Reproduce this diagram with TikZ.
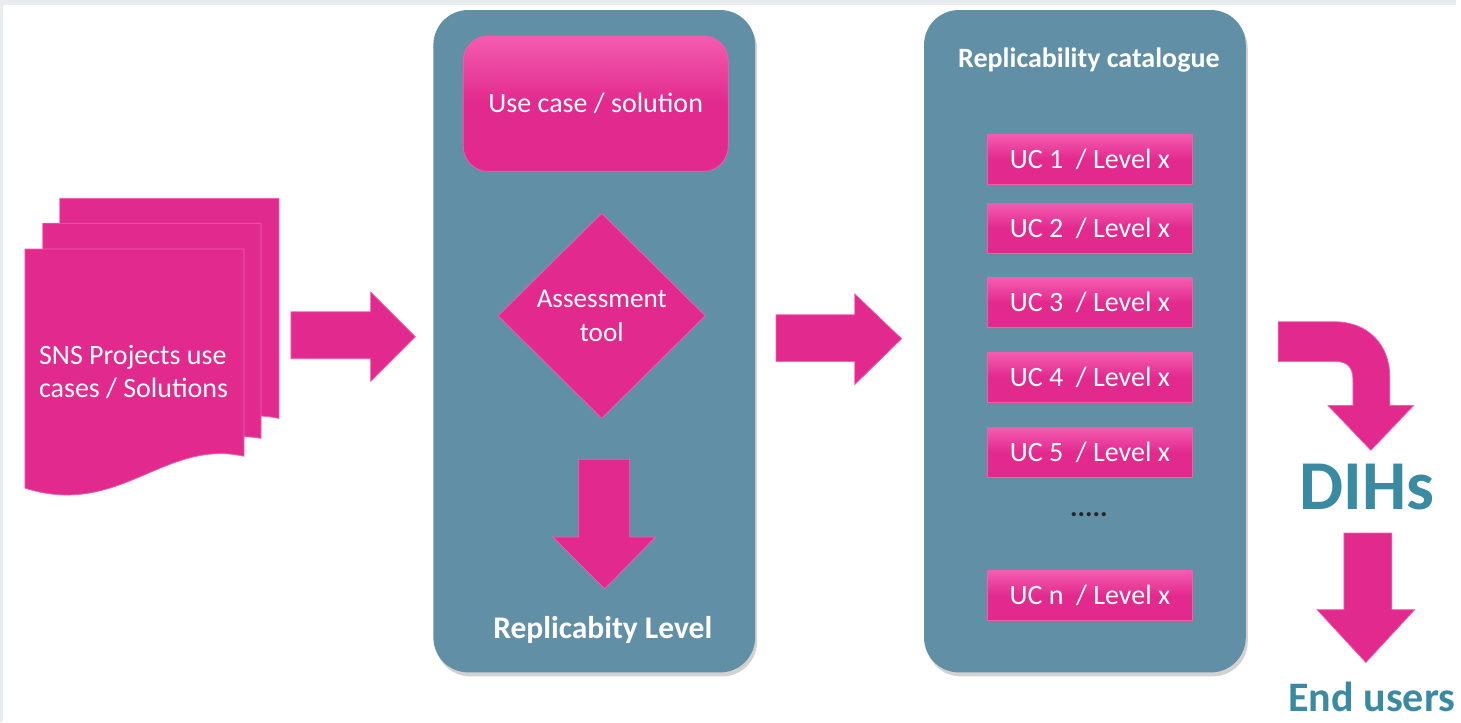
\documentclass[tikz,border=0pt]{standalone}
\usepackage{fontspec}
\setmainfont{Carlito}
\usepackage{tikz}
\definecolor{snspink}{HTML}{E2298E}
\definecolor{pinkedge}{HTML}{F45CB0}
\definecolor{panelblue}{HTML}{618FA6}
\definecolor{dihteal}{HTML}{3A8BA1}
\definecolor{pagegray}{HTML}{E9ECEF}
\usetikzlibrary{positioning, shapes.geometric, shadows}

\begin{document}
\begin{tikzpicture}[x=0.02cm, y=-0.02cm]
    \tikzstyle{every node}=[font=\fontsize{16}{19}\selectfont, text=white]
    \tikzstyle{panel} = [rectangle, rounded corners=0.7cm, fill=panelblue,
                         minimum width=6.46cm, minimum height=13.3cm,
                         drop shadow={opacity=0.35, shadow xshift=0.04cm, shadow yshift=-0.08cm}]
    \tikzstyle{pinkbox} = [rectangle, draw=pinkedge, thin, top color=pinkedge,
                           bottom color=snspink, middle color=snspink]
    \tikzstyle{ucbox} = [pinkbox, minimum width=4.12cm, minimum height=1cm,
                         drop shadow={opacity=0.3, shadow xshift=0.03cm, shadow yshift=-0.05cm}]
    \tikzstyle{blockarrow} = [fill=snspink, draw=pinkedge, thin]
    \tikzstyle{title} = [font=\fontsize{16}{19}\selectfont\bfseries]
    \tikzstyle{bigword} = [text=dihteal, font=\bfseries]

    % page
    \fill[pagegray] (0,0) rectangle (1461,725);
    \fill[white] (3,5) rectangle (1461,725);

    % stacked documents
    \path[blockarrow] (60,199) -- (280,199) -- (280,420)
        .. controls (210,405) and (160,460) .. (60,440) -- cycle;
    \path[blockarrow] (43,224) -- (262,224) -- (262,440)
        .. controls (190,428) and (140,480) .. (43,465) -- cycle;
    \path[blockarrow] (25,250) -- (245,250) -- (245,458)
        .. controls (165,440) and (120,520) .. (25,490) -- cycle;
    \node[anchor=west, align=left] (sns) at (33,373) {SNS Projects use\\cases / Solutions};

    % first arrow
    \path[blockarrow] (292,313) -- (372,313) -- (372,293) -- (417,338)
        -- (372,383) -- (372,360) -- (292,360) -- cycle;

    % assessment panel
    \node[panel] (assess) at (596.5,342.5) {};
    \node[pinkbox, rounded corners=0.5cm, minimum width=5.32cm, minimum height=2.72cm]
        (usecase) at (598,104) {Use case / solution};
    \node[diamond, fill=snspink, draw=pinkedge, thin, minimum width=4.16cm,
          minimum height=4.12cm, inner sep=0pt, align=center, font=\fontsize{15.5}{19}\selectfont]
        (tool) at (604,317) {Assessment\\tool};
    \path[blockarrow] (581,461) -- (632,461) -- (632,539) -- (658,539)
        -- (607,591) -- (555,539) -- (581,539) -- cycle;
    \node[title, font=\fontsize{18}{21}\selectfont\bfseries] (level) at (605,632) {Replicabity Level};

    % second arrow
    \path[blockarrow] (779,316) -- (858,316) -- (858,295) -- (905,340)
        -- (858,386) -- (858,363) -- (779,363) -- cycle;

    % catalogue panel
    \node[panel] (catalogue) at (1089,342.5) {};
    \node[title] (cattitle) at (1093,60) {Replicability catalogue};
    \foreach \i/\y in {1/160, 2/229, 3/304, 4/379, 5/454, n/598}
        \node[ucbox] (uc\i) at (1094,\y) {UC \i~ / Level x};
    \node[text=black!85, font=\fontsize{16}{19}\selectfont\bfseries] (dots) at (1093,517) {.....};

    % DIHs and end users
    \path[blockarrow] (1283,323) -- (1340,323)
        .. controls (1372,323) and (1395,345) .. (1395,378) -- (1395,407)
        -- (1419,407) -- (1376,452) -- (1333,407) -- (1358,407) -- (1358,380)
        .. controls (1358,369) and (1352,363) .. (1342,363) -- (1283,363) -- cycle;
    \node[bigword, font=\fontsize{40}{44}\selectfont\bfseries] (dih) at (1372,489) {DIHs};
    \path[blockarrow] (1349,535) -- (1397,535) -- (1397,612) -- (1420,612)
        -- (1371,665) -- (1322,612) -- (1349,612) -- cycle;
    \node[bigword, font=\fontsize{24}{28}\selectfont\bfseries] (users) at (1377,700) {End users};
\end{tikzpicture}
\end{document}
